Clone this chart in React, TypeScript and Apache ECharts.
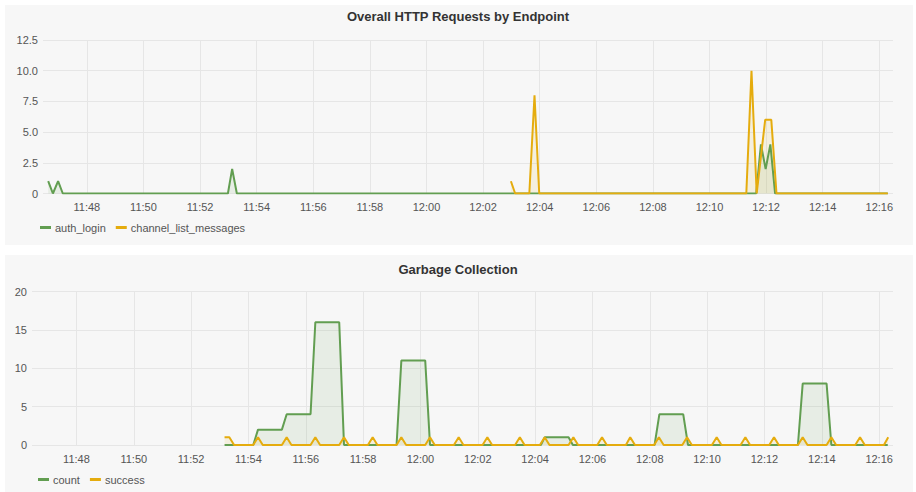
import React, { useEffect, useRef } from "react";
import * as echarts from "echarts";

// ---------- data ----------
const axisStart = "11:46:27";
const axisEnd = "12:16:29";

const timeTickLabels = [
  "11:48", "11:50", "11:52", "11:54", "11:56", "11:58", "12:00",
  "12:02", "12:04", "12:06", "12:08", "12:10", "12:12", "12:14", "12:16",
];

const httpYMax = 12.5;
const httpYStep = 2.5;
const gcYMax = 20;
const gcYStep = 5;

const httpTitle = "Overall HTTP Requests by Endpoint";
const gcTitle = "Garbage Collection";
const httpSeriesNames = ["auth_login", "channel_list_messages"];
const gcSeriesNames = ["count", "success"];

const authLogin: [string, number][] = [
  ["11:46:38", 1], ["11:46:48", 0], ["11:46:59", 1], ["11:47:09", 0],
  ["11:52:59", 0], ["11:53:08", 2], ["11:53:18", 0],
  ["12:11:39", 0], ["12:11:49", 4], ["12:11:59", 2], ["12:12:09", 4], ["12:12:19", 0],
  ["12:16:18", 0],
];

const channelListMessages: [string, number][] = [
  ["12:02:59", 1], ["12:03:08", 0],
  ["12:03:38", 0], ["12:03:49", 8], ["12:03:59", 0],
  ["12:11:18", 0], ["12:11:29", 10], ["12:11:40", 0],
  ["12:11:58", 6], ["12:12:11", 6], ["12:12:22", 0],
  ["12:16:18", 0],
];

const gcCount: [string, number][] = [
  ["11:53:10", 0], ["11:54:10", 0], ["11:54:20", 2], ["11:55:10", 2], ["11:55:20", 4],
  ["11:56:10", 4], ["11:56:20", 16], ["11:57:10", 16], ["11:57:20", 0],
  ["11:59:10", 0], ["11:59:20", 11], ["12:00:10", 11], ["12:00:20", 0],
  ["12:04:12", 0], ["12:04:20", 1], ["12:05:10", 1], ["12:05:19", 0],
  ["12:08:10", 0], ["12:08:20", 4], ["12:09:10", 4], ["12:09:20", 0],
  ["12:13:10", 0], ["12:13:20", 8], ["12:14:10", 8], ["12:14:20", 0],
  ["12:16:18", 0],
];

const gcSuccess: [string, number][] = [
  ["11:53:10", 1], ["11:53:20", 1], ["11:53:30", 0],
  ["11:54:10", 0], ["11:54:20", 1], ["11:54:30", 0],
  ["11:55:10", 0], ["11:55:20", 1], ["11:55:30", 0],
  ["11:56:10", 0], ["11:56:20", 1], ["11:56:30", 0],
  ["11:57:10", 0], ["11:57:20", 1], ["11:57:30", 0],
  ["11:58:10", 0], ["11:58:20", 1], ["11:58:30", 0],
  ["11:59:10", 0], ["11:59:20", 1], ["11:59:30", 0],
  ["12:00:10", 0], ["12:00:20", 1], ["12:00:30", 0],
  ["12:01:10", 0], ["12:01:20", 1], ["12:01:30", 0],
  ["12:02:10", 0], ["12:02:20", 1], ["12:02:30", 0],
  ["12:03:18", 0], ["12:03:28", 1], ["12:03:38", 0],
  ["12:04:10", 0], ["12:04:20", 1], ["12:04:30", 0],
  ["12:05:10", 0], ["12:05:20", 1], ["12:05:30", 0],
  ["12:06:10", 0], ["12:06:20", 1], ["12:06:30", 0],
  ["12:07:10", 0], ["12:07:19", 1], ["12:07:29", 0],
  ["12:08:09", 0], ["12:08:19", 1], ["12:08:29", 0],
  ["12:09:08", 0], ["12:09:18", 1], ["12:09:28", 0],
  ["12:10:10", 0], ["12:10:20", 1], ["12:10:30", 0],
  ["12:11:10", 0], ["12:11:20", 1], ["12:11:30", 0],
  ["12:12:10", 0], ["12:12:20", 1], ["12:12:30", 0],
  ["12:13:10", 0], ["12:13:20", 1], ["12:13:30", 0],
  ["12:14:10", 0], ["12:14:20", 1], ["12:14:30", 0],
  ["12:15:10", 0], ["12:15:20", 1], ["12:15:30", 0],
  ["12:16:10", 0], ["12:16:19", 1],
];

// ---------- helpers ----------
const toTs = (t: string) => {
  const parts = t.split(":").map(Number);
  const h = parts[0], m = parts[1], s = parts[2] || 0;
  return new Date(2024, 0, 1, h, m, s).getTime();
};
const toData = (arr: [string, number][]) => arr.map(([t, v]) => [toTs(t), v]);
const tickValues = timeTickLabels.map(toTs);

const GREEN = "#629e51";
const YELLOW = "#e5ac0e";
const FONT = "'Liberation Sans', Arial, Helvetica, sans-serif";
const GRID_COLOR = "#e6e6e6";
const LABEL_COLOR = "#555";

export default function App() {
  const ref = useRef<HTMLDivElement>(null);

  useEffect(() => {
    if (!ref.current) return;
    const chart = echarts.init(ref.current, undefined, { renderer: "svg" });

    const fmtTime = (v: number) => {
      const d = new Date(v);
      const hh = String(d.getHours()).padStart(2, "0");
      const mm = String(d.getMinutes()).padStart(2, "0");
      return `${hh}:${mm}`;
    };

    const xAxisBase = (gridIndex: number) => ({
      type: "value" as const,
      gridIndex,
      min: toTs(axisStart),
      max: toTs(axisEnd),
      axisLine: { show: false },
      axisTick: { show: false, customValues: tickValues },
      axisLabel: {
        fontSize: 11,
        color: LABEL_COLOR,
        margin: 8,
        fontFamily: FONT,
        customValues: tickValues,
        formatter: fmtTime,
      },
      splitLine: { show: true, lineStyle: { color: GRID_COLOR, width: 1 } },
    });

    const yAxisBase = (gridIndex: number, max: number, interval: number, fmt: (v: number) => string) => ({
      type: "value" as const,
      gridIndex,
      min: 0,
      max,
      interval,
      axisLine: { show: false },
      axisTick: { show: false },
      axisLabel: { fontSize: 11, color: LABEL_COLOR, margin: 5, fontFamily: FONT, formatter: fmt },
      splitLine: { show: true, lineStyle: { color: GRID_COLOR, width: 1 } },
    });

    const lineSeries = (name: string, data: [string, number][], color: string, axis: number) => ({
      name,
      type: "line" as const,
      xAxisIndex: axis,
      yAxisIndex: axis,
      data: toData(data),
      showSymbol: false,
      symbol: "none",
      lineStyle: { color, width: 2 },
      itemStyle: { color },
      areaStyle: { color, opacity: 0.1 },
      z: 3,
    });

    chart.setOption({
      animation: false,
      textStyle: { fontFamily: FONT },
      title: [
        {
          text: httpTitle,
          left: "center",
          top: 10,
          padding: 0,
          textStyle: { fontSize: 13, fontWeight: "bold", color: "#333", fontFamily: FONT },
        },
        {
          text: gcTitle,
          left: "center",
          top: 263,
          padding: 0,
          textStyle: { fontSize: 13, fontWeight: "bold", color: "#333", fontFamily: FONT },
        },
      ],
      legend: [
        {
          data: httpSeriesNames,
          left: 40,
          top: 222,
          padding: 0,
          icon: "rect",
          itemWidth: 11,
          itemHeight: 3,
          itemGap: 10,
          textStyle: { fontSize: 11, color: LABEL_COLOR, fontFamily: FONT, padding: [0, 0, 0, -1] },
        },
        {
          data: gcSeriesNames,
          left: 38,
          top: 474,
          padding: 0,
          icon: "rect",
          itemWidth: 11,
          itemHeight: 3,
          itemGap: 10,
          textStyle: { fontSize: 11, color: LABEL_COLOR, fontFamily: FONT, padding: [0, 0, 0, -1] },
        },
      ],
      grid: [
        { left: 43, right: 23, top: 40, height: 153.5 },
        { left: 32, right: 23, top: 291.5, height: 153.5 },
      ],
      xAxis: [xAxisBase(0), xAxisBase(1)],
      yAxis: [
        yAxisBase(0, httpYMax, httpYStep, (v: number) => (v === 0 ? "0" : v.toFixed(1))),
        yAxisBase(1, gcYMax, gcYStep, (v: number) => String(v)),
      ],
      series: [
        lineSeries(httpSeriesNames[0], authLogin, GREEN, 0),
        lineSeries(httpSeriesNames[1], channelListMessages, YELLOW, 0),
        lineSeries(gcSeriesNames[0], gcCount, GREEN, 1),
        lineSeries(gcSeriesNames[1], gcSuccess, YELLOW, 1),
      ],
    });

    return () => chart.dispose();
  }, []);

  return (
    <div style={{ position: "fixed", left: 0, top: 0, width: 916, height: 492, background: "#ffffff" }}>
      <div style={{ position: "absolute", left: 5, top: 5, width: 908, height: 240, background: "#f7f7f7" }} />
      <div style={{ position: "absolute", left: 5, top: 255, width: 908, height: 237, background: "#f7f7f7" }} />
      <div ref={ref} style={{ position: "absolute", left: 0, top: 0, width: 916, height: 492 }} />
    </div>
  );
}
